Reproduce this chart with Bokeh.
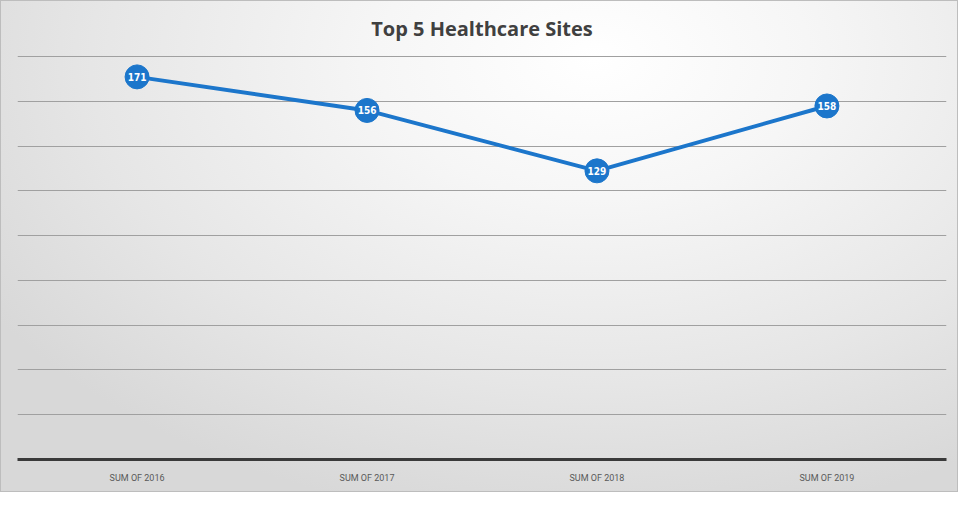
from bokeh.plotting import figure
from bokeh.models import ColumnDataSource, FactorRange, Range1d, SingleIntervalTicker, InlineStyleSheet
from bokeh.core.properties import value
from bokeh.embed import file_html
from bokeh.resources import INLINE

categories = ["SUM OF 2016", "SUM OF 2017", "SUM OF 2018", "SUM OF 2019"]
values = [171, 156, 129, 158]
labels = [str(v) for v in values]

src = ColumnDataSource(dict(x=categories, y=values, t=labels))

css = InlineStyleSheet(css=""":host {
  background: radial-gradient(ellipse 75% 95% at 62% 12%, #ffffff 0%, #f6f6f6 30%, #e6e6e6 70%, #d8d8d8 100%);
  box-shadow: inset 0 0 0 1px #bdbdbd;
}""")

p = figure(width=958, height=492, x_range=FactorRange(*categories, range_padding=0.01),
           y_range=Range1d(0, 181), output_backend="svg", toolbar_location=None,
           min_border_left=17, min_border_right=12, min_border_top=30, min_border_bottom=33,
           title="Top 5 Healthcare Sites")
p.stylesheets = [css]
p.background_fill_alpha = 0
p.border_fill_alpha = 0
p.outline_line_color = None

p.title.align = "center"
p.title.text_font = "Open Sans"
p.title.text_font_style = "bold"
p.title.text_font_size = "20px"
p.title.text_color = "#404040"
p.title.standoff = 25
p.title.offset = 0

p.yaxis.visible = False
p.ygrid.ticker = SingleIntervalTicker(interval=20)
p.ygrid.grid_line_color = "#a0a0a0"
p.ygrid.grid_line_width = 1
p.xgrid.grid_line_color = None

p.xaxis.axis_line_color = "#3a3a3a"
p.xaxis.axis_line_width = 3
p.xaxis.major_tick_line_color = None
p.xaxis.minor_tick_line_color = None
p.xaxis.major_label_text_font = "Roboto"
p.xaxis.major_label_text_font_size = "9px"
p.xaxis.major_label_text_color = "#595959"
p.xaxis.major_label_standoff = 7

p.line("x", "y", source=src, line_color="#1c76cb", line_width=4)
p.scatter("x", "y", source=src, size=24, fill_color="#1c76cb", line_color="#1c76cb")
p.text("x", "y", text="t", source=src, text_color="white", text_font=value("DejaVu Sans Condensed"),
       text_font_style="bold", text_font_size="10px", text_align="center", text_baseline="middle")

open("out.html", "w").write(file_html(p, INLINE))
